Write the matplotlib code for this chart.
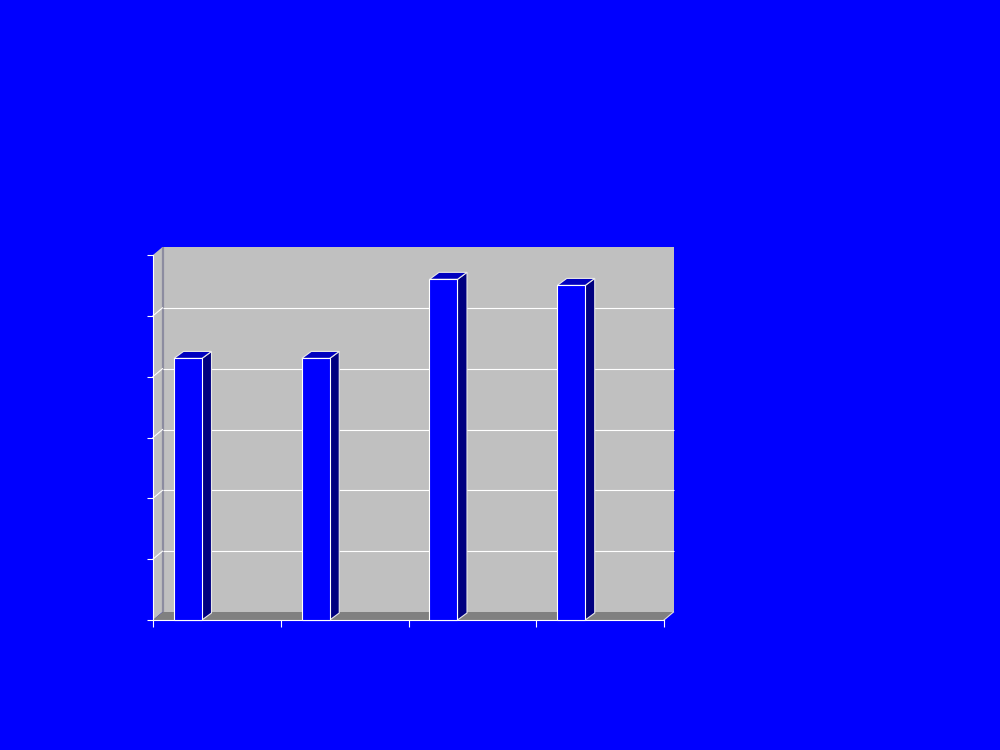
import matplotlib
matplotlib.use('Agg')
import matplotlib.pyplot as plt
from matplotlib.patches import Polygon
import numpy as np

categories = ['1', '2', '3', '4']
values = [4.3, 4.3, 5.6, 5.5]
y_ticks = [0, 1, 2, 3, 4, 5, 6]

n = len(categories)
ymax = y_ticks[-1]

fig = plt.figure(figsize=(10, 7.5), dpi=100, facecolor='#0000FF')
ax = fig.add_axes([0.153, 1 - 620 / 750, 0.511, 365 / 750])
ax.set_xlim(0, n)
ax.set_ylim(0, ymax)
ax.patch.set_visible(False)

px_x = 511 / n
px_y = 365 / ymax
DX, DY = 9.5 / px_x, 8 / px_y     # wall depth
BX, BY = 9.5 / px_x, 7 / px_y     # bar depth

kw = dict(closed=True, ec='none', clip_on=False)
ax.add_patch(Polygon([(DX, DY), (n + DX, DY), (n + DX, ymax + DY), (DX, ymax + DY)],
                     fc='#C0C0C0', zorder=0.5, **kw))
ax.add_patch(Polygon([(0, 0), (DX, DY), (DX, ymax + DY), (0, ymax)],
                     fc='#C0C0C0', zorder=0.6, **kw))
ax.add_patch(Polygon([(0, 0), (n, 0), (n + DX, DY), (DX, DY)],
                     fc='#808080', zorder=0.7, **kw))
ax.plot([DX, DX], [DY, ymax + DY], color='#8C8CA0', lw=1.6, zorder=0.75, clip_on=False,
        solid_capstyle='butt')

for t in y_ticks[1:-1]:
    ax.plot([DX, n + DX], [t + DY, t + DY], color='white', lw=0.8, zorder=0.8, clip_on=False,
            solid_capstyle='butt')
    ax.plot([0, DX], [t, t + DY], color='white', lw=0.8, zorder=0.8, clip_on=False)
ax.plot([n, n + DX], [0, DY], color='#E0E0E0', lw=0.8, zorder=0.8, clip_on=False)

w = 28 / px_x
x_left = np.arange(n) + 21 / px_x
ax.bar(x_left, values, width=w, align='edge', color='#0000FF', edgecolor='white',
       linewidth=0.8, zorder=3, clip_on=False)
for x, v in zip(x_left, values):
    ax.add_patch(Polygon([(x + w, 0), (x + w + BX, BY), (x + w + BX, v + BY), (x + w, v)],
                         closed=True, fc='#000080', ec='#E8E8E8', lw=0.8, zorder=2.9, clip_on=False))
    ax.add_patch(Polygon([(x, v), (x + w, v), (x + w + BX, v + BY), (x + BX, v + BY)],
                         closed=True, fc='#0000C0', ec='#E8E8E8', lw=0.8, zorder=2.9, clip_on=False))

ax.set_yticks(y_ticks)
ax.set_yticklabels([])
ax.set_xticks(np.arange(n + 1))
ax.set_xticklabels([])
ax.tick_params(axis='y', colors='white', length=4, width=0.8, direction='out')
ax.tick_params(axis='x', colors='white', length=5, width=0.8, direction='out')
for s in ['top', 'right']:
    ax.spines[s].set_visible(False)
for s in ['left', 'bottom']:
    ax.spines[s].set_color('white')
    ax.spines[s].set_linewidth(0.8)

fig.savefig('out.png', dpi=100, facecolor=fig.get_facecolor())
